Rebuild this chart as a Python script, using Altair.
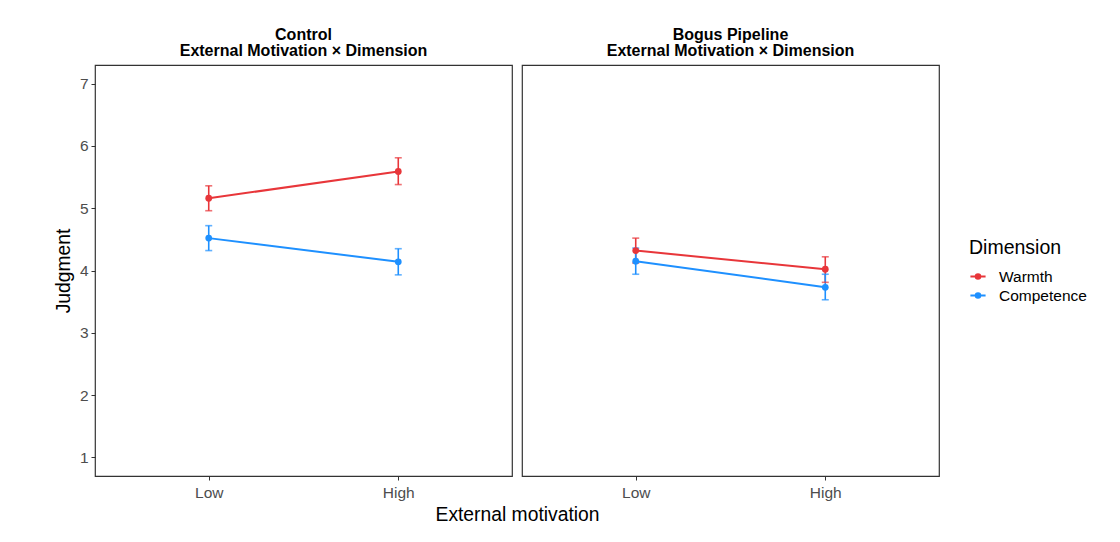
import altair as alt
import pandas as pd

panels = ["Control"] * 4 + ["Bogus Pipeline"] * 4
motivation = ["Low", "High", "Low", "High"] * 2
dimension = ["Warmth", "Warmth", "Competence", "Competence"] * 2
means = [5.16, 5.59, 4.52, 4.14, 4.32, 4.02, 4.15, 3.73]
lower = [4.96, 5.38, 4.32, 3.93, 4.12, 3.81, 3.94, 3.53]
upper = [5.36, 5.81, 4.72, 4.35, 4.52, 4.22, 4.36, 3.94]
y_ticks = [1, 2, 3, 4, 5, 6, 7]
dim_order = ["Warmth", "Competence"]
dim_colors = ["#E8363A", "#1E90FF"]
subtitle = "External Motivation × Dimension"

df = pd.DataFrame({
    "panel": panels, "motivation": motivation, "dimension": dimension,
    "mean": means, "lower": lower, "upper": upper,
})

FONT = "Liberation Sans"
W, H = 417, 411


def panel(name, first):
    d = df[df.panel == name]
    base = alt.Chart(d)
    x_axis = alt.Axis(
        title="External motivation" if first else None,
        labelAngle=0, labelFontSize=15.5, labelColor="#4D4D4D", labelPadding=5,
        tickSize=4, tickColor="#333333", domain=False, grid=False,
        titleFontSize=19.3, titleFontWeight="normal", titleColor="#000000",
        titleX=W + 5, titleAlign="center", titlePadding=5,
    )
    x = alt.X("motivation:N", sort=["Low", "High"],
              scale=alt.Scale(type="point", padding=0.6), axis=x_axis)
    if first:
        y_axis = alt.Axis(values=y_ticks, title="Judgment", labelFontSize=15.5,
                          labelColor="#4D4D4D", tickSize=4, tickColor="#333333",
                          labelPadding=3, domain=False, grid=False,
                          titleFontSize=19.3, titleFontWeight="normal",
                          titleColor="#000000", titlePadding=6)
    else:
        y_axis = None
    yscale = alt.Scale(domain=[0.7, 7.3], nice=False, zero=False)
    color = alt.Color(
        "dimension:N",
        scale=alt.Scale(domain=dim_order, range=dim_colors),
        sort=dim_order,
        legend=alt.Legend(
            title="Dimension", orient="none", legendX=874, legendY=174,
            titleFontSize=19.5, titleFontWeight="normal", titleColor="#000000",
            labelFontSize=15.5, labelColor="#000000", titlePadding=9,
            symbolType="M-1,0H1M-0.3,0A0.3,0.3,0,1,1,0.3,0A0.3,0.3,0,1,1,-0.3,0",
            symbolSize=230, symbolStrokeWidth=2, symbolOpacity=1,
            labelOffset=12, rowPadding=1,
        ),
    )
    line = base.mark_line(strokeWidth=2).encode(
        x=x, y=alt.Y("mean:Q", scale=yscale, axis=y_axis), color=color)
    rule = base.mark_rule(strokeWidth=1.6).encode(
        x=x, y=alt.Y("lower:Q", scale=yscale, axis=y_axis), y2="upper:Q", color=color)
    tick_lo = base.mark_tick(size=7, thickness=1.6, orient="horizontal").encode(
        x=x, y=alt.Y("lower:Q", scale=yscale, axis=y_axis), color=color)
    tick_hi = base.mark_tick(size=7, thickness=1.6, orient="horizontal").encode(
        x=x, y=alt.Y("upper:Q", scale=yscale, axis=y_axis), color=color)
    pts = base.mark_point(filled=True, size=46, opacity=1).encode(
        x=x, y=alt.Y("mean:Q", scale=yscale, axis=y_axis), color=color)
    return alt.layer(rule, tick_lo, tick_hi, line, pts).properties(
        width=W, height=H,
        title=alt.TitleParams([name, subtitle], fontSize=16, fontWeight="bold",
                              anchor="middle", offset=6, lineHeight=16,
                              color="#000000"),
    )


chart = alt.hconcat(
    panel("Control", True), panel("Bogus Pipeline", False),
    spacing=10, bounds="flush",
).resolve_scale(color="shared").properties(
    padding={"left": 45, "top": 18, "right": 5, "bottom": 5}
).configure(font=FONT).configure_view(stroke="#333333", strokeWidth=1.2)

chart.save("out.html", embed_options={"renderer": "svg", "actions": False})
